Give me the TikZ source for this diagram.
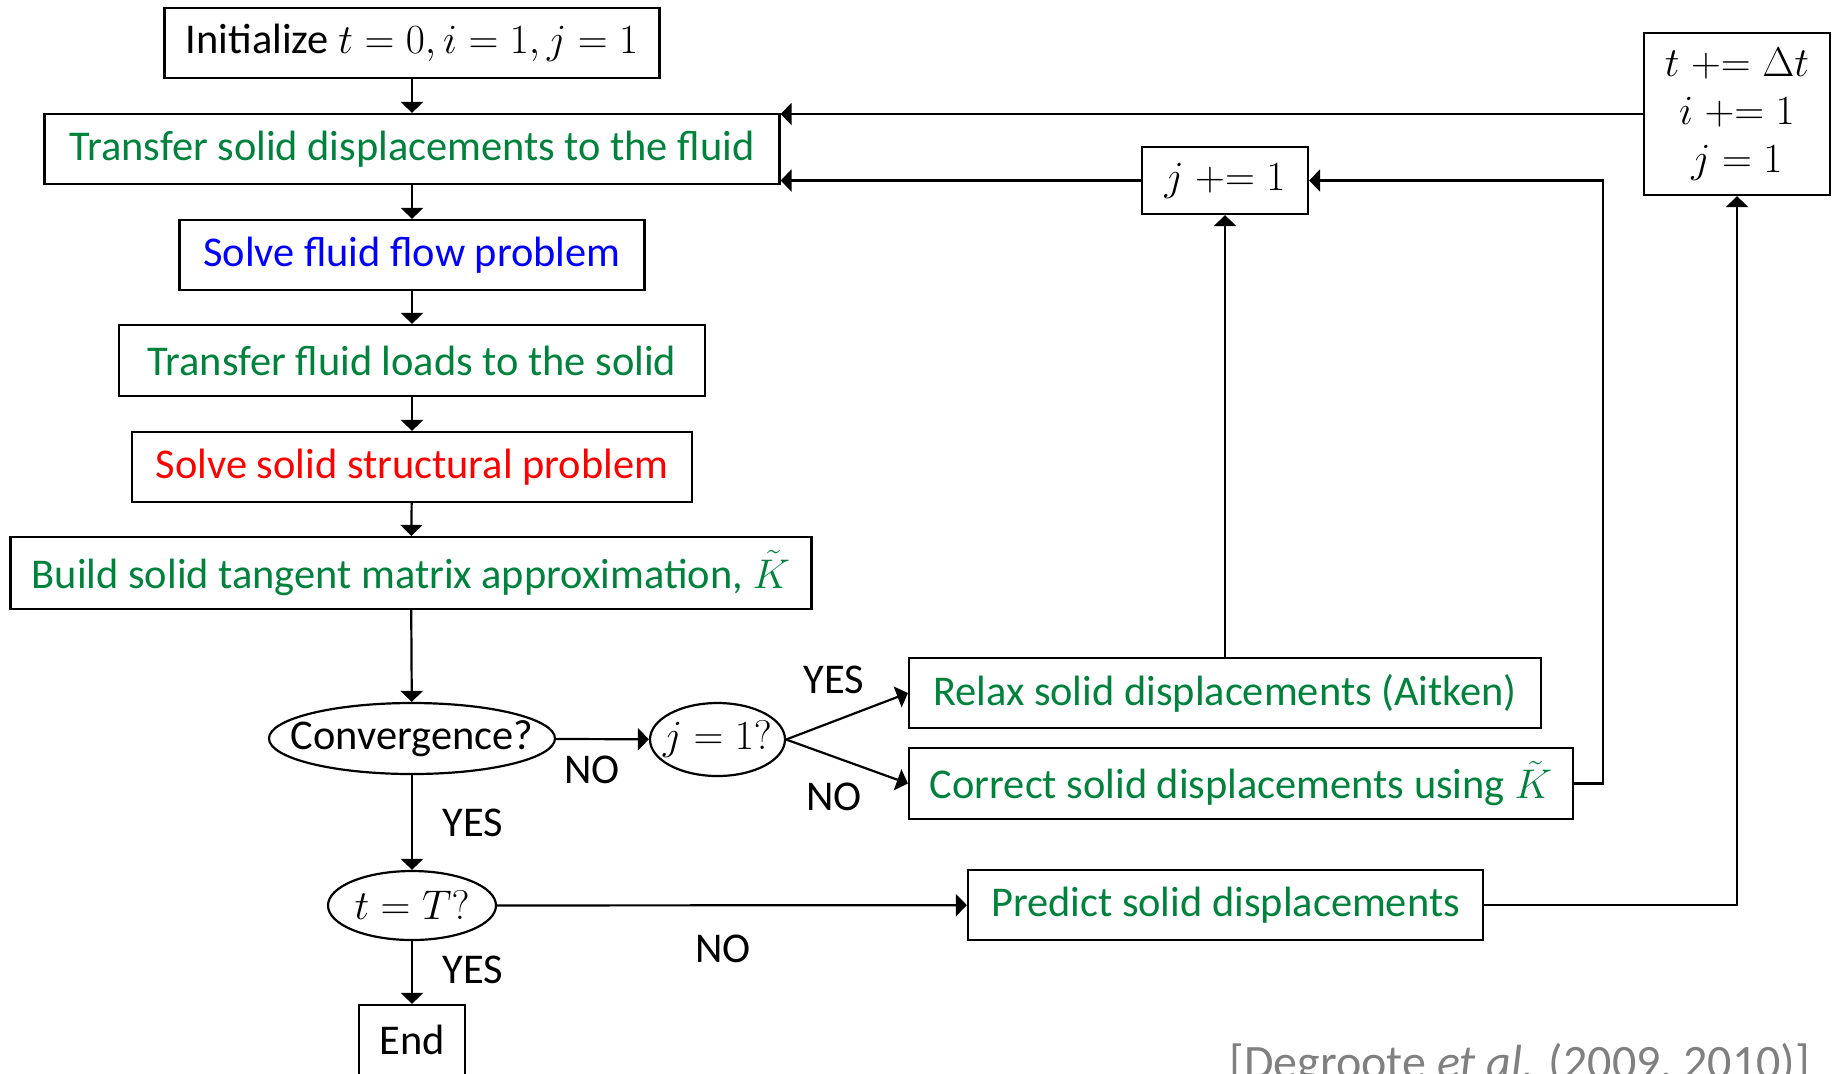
\documentclass[tikz,border=0pt]{standalone}
\usepackage{fontspec}
\setmainfont{Carlito}
\usepackage{tikz}
\usetikzlibrary{arrows.meta,shapes.geometric}
\usetikzlibrary{positioning}

\definecolor{stepgreen}{RGB}{0,130,60}
\definecolor{citegray}{RGB}{128,128,128}

\tikzset{
  box/.style={draw,line width=1.1pt,rectangle,inner sep=0pt,minimum height=35pt},
  decision/.style={draw,line width=1.1pt,ellipse,inner xsep=-12pt,inner ysep=0pt,minimum height=35.5pt},
  lbl/.style={inner sep=0pt},
  arr/.style={-{Triangle[width=11pt,length=5.5pt]},line width=1.1pt},
}

\begin{document}
\begin{tikzpicture}[x=0.5pt,y=-0.5pt,font=\fontsize{21.2}{25}\selectfont]
  \useasboundingbox (0,0) rectangle (1835,1073);
  % main column
  \node[box,minimum width=247.5pt] (init) at (412,43) {Initialize $t=0, i=1, j=1$};
  \node[box,minimum width=367.5pt,text=stepgreen] (tsd) at (412,149) {Transfer solid displacements to the fluid};
  \node[box,minimum width=232.5pt,text=blue] (fluid) at (412,255) {Solve fluid flow problem};
  \node[box,minimum width=293pt,minimum height=35.5pt,text=stepgreen] (tfl) at (412,360.5) {Transfer fluid loads to the solid};
  \node[box,minimum width=280pt,text=red] (solid) at (412,467) {Solve solid structural problem};
  \node[box,minimum width=400.5pt,minimum height=36pt,text=stepgreen] (tangent) at (411,573) {Build solid tangent matrix approximation, $\tilde{K}$\hspace{2pt}};
  \node[decision,minimum width=143pt] (conv) at (412,738.5) {Convergence?};
  \node[decision,minimum width=84pt,minimum height=34.5pt] (time) at (412,905.5) {$t=T?$};
  \node[box,minimum width=53pt] (end) at (412,1040) {End};
  % coupling iterations
  \node[decision,minimum width=67.5pt,minimum height=36.5pt] (jone) at (717.5,739.5) {$j=1?$};
  \node[box,minimum width=316pt,text=stepgreen] (relax) at (1225,693) {Relax solid displacements (Aitken)};
  \node[box,minimum width=332pt,minimum height=35.5pt,text=stepgreen] (correct) at (1241,783.5) {Correct solid displacements using $\tilde{K}$\hspace{2pt}};
  \node[box,minimum width=83pt,minimum height=33.5pt] (jinc) at (1225,180.5) {$j\mathrel{+}=1$};
  % time stepping
  \node[box,minimum width=257.5pt,text=stepgreen] (predict) at (1225.5,905) {Predict solid displacements};
  \node[box,minimum width=93pt,minimum height=81pt,align=center] (tinc) at (1737,114)
    {$t\mathrel{+}=\Delta t$\\[-1pt] $i\mathrel{+}=1$\\[-1pt] $j=1$};
  \coordinate (corner) at (1603,180.5);

  \draw[arr] (init) -- (tsd);
  \draw[arr] (tsd) -- (fluid);
  \draw[arr] (fluid) -- (tfl);
  \draw[arr] (tfl) -- (solid);
  \draw[arr] (solid) -- (tangent);
  \draw[arr] (tangent) -- (conv);
  \draw[arr] (conv) -- (time);
  \draw[arr] (time) -- (end);
  \draw[arr] (conv) -- (jone);
  \draw[arr] (jone.east) -- (relax.west);
  \draw[arr] (jone.east) -- (correct.west);
  \draw[arr] (relax) -- (jinc);
  \draw[arr] (correct.east) -| (corner) -- (jinc.east);
  \draw[arr] (jinc.west) -- (jinc.west -| tsd.east);
  \draw[arr] (time) -- (predict);
  \draw[arr] (predict.east) -| (tinc.south);
  \draw[arr] (tinc.west) -- (tinc.west -| tsd.east);

  % branch labels
  \node[lbl] (yconv) at (473,823) {YES};
  \node[lbl] (nconv) at (592,770) {NO};
  \node[lbl] (yjone) at (834,680) {YES};
  \node[lbl] (njone) at (834,797) {NO};
  \node[lbl] (ntime) at (723,949) {NO};
  \node[lbl] (ytime) at (473,970) {YES};
  \node[lbl,anchor=base west,text=citegray,font=\fontsize{24}{28}\selectfont] (cite) at (1229,1078) {[Degroote \textit{et al.} (2009, 2010)]};
\end{tikzpicture}
\end{document}
